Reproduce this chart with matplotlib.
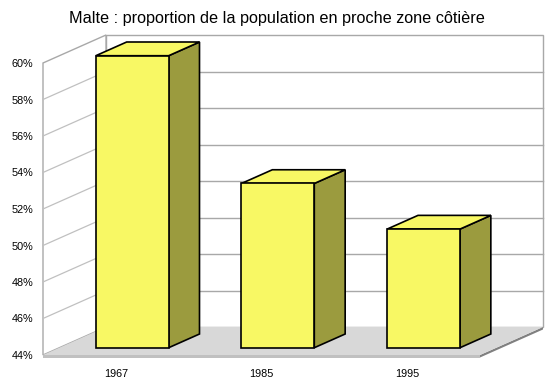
import numpy as np
import matplotlib
matplotlib.use("Agg")
import matplotlib.pyplot as plt
from matplotlib.patches import Polygon
from matplotlib.transforms import IdentityTransform

# ---- data ----
categories = ["1967", "1985", "1995"]
values = [60.0, 53.0, 50.5]
yticks = [44, 46, 48, 50, 52, 54, 56, 58, 60]
ytick_labels = ["44%", "46%", "48%", "50%", "52%", "54%", "56%", "58%", "60%"]
title = "Malte : proportion de la population en proche zone côtière"

plt.rcParams['font.family'] = ['Liberation Sans', 'DejaVu Sans']

W, H, DPI = 557, 390, 100
fig = plt.figure(figsize=(W / DPI, H / DPI), dpi=DPI)
fig.patch.set_facecolor('white')

# front plane axes (pixel layout)
left, right, top, bottom = 43, 480, 63, 355
ax = fig.add_axes([left / W, (H - bottom) / H, (right - left) / W, (bottom - top) / H])
ax.set_xlim(-0.5, len(categories) - 0.5)
ax.set_ylim(44, 60)
ax.patch.set_alpha(0)
for s in ax.spines.values():
    s.set_visible(False)

ax.set_yticks(yticks)
ax.set_yticklabels(ytick_labels, fontsize=7.8)
ax.set_xticks(range(len(categories)))
ax.set_xticklabels(categories, fontsize=7.8)
ax.tick_params(axis='y', length=0, pad=7)
ax.tick_params(axis='x', length=0, pad=10)

DX, DY = 63.0, 28.0  # depth offset in display pixels

def P(x, y, d):
    p = ax.transData.transform((x, y))
    return (p[0] + d * DX, p[1] + d * DY)

def poly(pts, fc, ec, lw=1.0, z=1):
    ax.add_patch(Polygon(pts, closed=True, facecolor=fc, edgecolor=ec, linewidth=lw,
                         transform=IdentityTransform(), clip_on=False, zorder=z))

def line(p1, p2, c, lw=1.0, z=2):
    ax.add_line(plt.Line2D([p1[0], p2[0]], [p1[1], p2[1]], color=c, linewidth=lw,
                           transform=IdentityTransform(), clip_on=False, zorder=z))

x0, x1 = -0.5, len(categories) - 0.5
ymin, ymax = 44, 60
grid_c = '#a8a8a8'

# back wall
poly([P(x0, ymin, 1), P(x1, ymin, 1), P(x1, ymax, 1), P(x0, ymax, 1)], 'white', grid_c, 1.0, 1)
# left wall
poly([P(x0, ymin, 0), P(x0, ymin, 1), P(x0, ymax, 1), P(x0, ymax, 0)], 'white', grid_c, 1.0, 1)
# gridlines
for t in yticks[1:-1]:
    line(P(x0, t, 0), P(x0, t, 1), '#c0c0c0', 0.9, 2)
    line(P(x0, t, 1), P(x1, t, 1), grid_c, 1.0, 2)

# floor slab
th = 2.5
a, b, c_, d_ = P(x0, ymin, 0), P(x1, ymin, 0), P(x1, ymin, 1), P(x0, ymin, 1)
poly([(a[0], a[1] - th), (b[0], b[1] - th), b, a], '#c0c0c0', 'none', 0, 3)
poly([(b[0], b[1] - th), (c_[0], c_[1] - th), c_, b], '#808080', 'none', 0, 3)
poly([a, b, c_, d_], '#d8d8d8', 'none', 0, 3)

# bars
hw = 0.25
d_front, d_back = 0.26, 0.75
front_c, side_c, top_c = '#f8f864', '#9b9b3e', '#f8f864'
for i, v in enumerate(values):
    poly([P(i + hw, ymin, d_front), P(i + hw, ymin, d_back), P(i + hw, v, d_back), P(i + hw, v, d_front)],
         side_c, 'black', 1.2, 5)
    poly([P(i - hw, v, d_front), P(i + hw, v, d_front), P(i + hw, v, d_back), P(i - hw, v, d_back)],
         top_c, 'black', 1.2, 5)
    poly([P(i - hw, ymin, d_front), P(i + hw, ymin, d_front), P(i + hw, v, d_front), P(i - hw, v, d_front)],
         front_c, 'black', 1.2, 6)

fig.text(277 / W, 1 - 18 / H, title, fontsize=11.7, ha='center', va='center', color='black')

fig.savefig('out.png', dpi=DPI, facecolor='white')
